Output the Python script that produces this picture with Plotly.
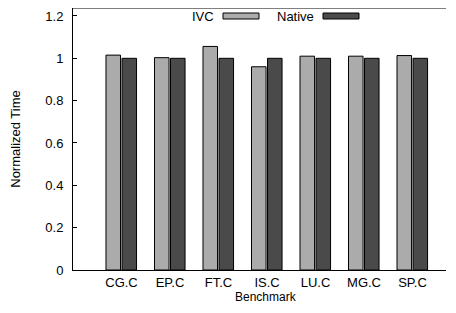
import plotly.graph_objects as go

categories = ["CG.C", "EP.C", "FT.C", "IS.C", "LU.C", "MG.C", "SP.C"]
ivc = [1.015, 1.003, 1.056, 0.960, 1.010, 1.010, 1.013]
native = [1.0, 1.0, 1.0, 1.0, 1.0, 1.0, 1.0]
y_ticks = [0, 0.2, 0.4, 0.6, 0.8, 1, 1.2]
y_tick_labels = ["0", "0.2", "0.4", "0.6", "0.8", "1", "1.2"]

xpos = list(range(len(categories)))
font = "Liberation Sans, Arial, sans-serif"

W, H = 438, 297
OFF = 8  # page body margin
L, T, B = 65, 0, 35
PW = W - L
PH = H - T - B

fig = go.Figure()
fig.add_trace(go.Bar(x=xpos, y=ivc, name="IVC", width=0.30, offset=-0.32,
                     marker=dict(color="#ababab", line=dict(color="#000000", width=1))))
fig.add_trace(go.Bar(x=xpos, y=native, name="Native", width=0.30, offset=0.01,
                     marker=dict(color="#4a4a4a", line=dict(color="#000000", width=1))))

fig.update_layout(
    width=W, height=H,
    margin=dict(l=L, r=0, t=T, b=B, autoexpand=False),
    paper_bgcolor="white", plot_bgcolor="white",
    showlegend=False,
    font=dict(family=font, size=13, color="#000000"),
)
fig.update_xaxes(
    range=[-1, 6.69], tickvals=xpos, ticktext=categories, automargin=False,
    showline=True, linecolor="#000000", linewidth=1, mirror=False,
    ticks="", showgrid=False, zeroline=False, ticklabelstandoff=0,
)
fig.update_yaxes(
    range=[0, 1.2376], tickvals=y_ticks, ticktext=y_tick_labels, automargin=False,
    showline=True, linecolor="#000000", linewidth=1, mirror=False,
    ticks="inside", ticklen=4, tickcolor="#000000",
    showgrid=False, zeroline=False, ticklabelstandoff=6,
    title=dict(text="Normalized Time", standoff=22, font=dict(size=13)),
)

def px(x):
    return (x - OFF - L) / PW

def py(y):
    return (H - B - (y - OFF)) / PH

# top border of the plot frame
fig.add_shape(type="line", xref="paper", yref="paper", x0=0, x1=1, y0=1, y1=1,
              line=dict(color="#000000", width=1))

# x-axis title
fig.add_annotation(text="Benchmark", showarrow=False, xref="paper", yref="paper",
                   x=px(266), y=py(305), xanchor="center", yanchor="bottom",
                   borderpad=0, font=dict(size=12))

# legend (gnuplot style: label then sample)
fig.add_annotation(text="IVC", showarrow=False, xref="paper", yref="paper",
                   x=px(216), y=py(16), xanchor="right", yanchor="middle")
fig.add_annotation(text="Native", showarrow=False, xref="paper", yref="paper",
                   x=px(316), y=py(16), xanchor="right", yanchor="middle")
for x0, x1, c in [(223, 259, "#ababab"), (323, 359, "#4a4a4a")]:
    fig.add_shape(type="rect", xref="paper", yref="paper",
                  x0=px(x0), x1=px(x1), y0=py(19), y1=py(13),
                  fillcolor=c, line=dict(color="#000000", width=1))

fig.write_html("out.html")
